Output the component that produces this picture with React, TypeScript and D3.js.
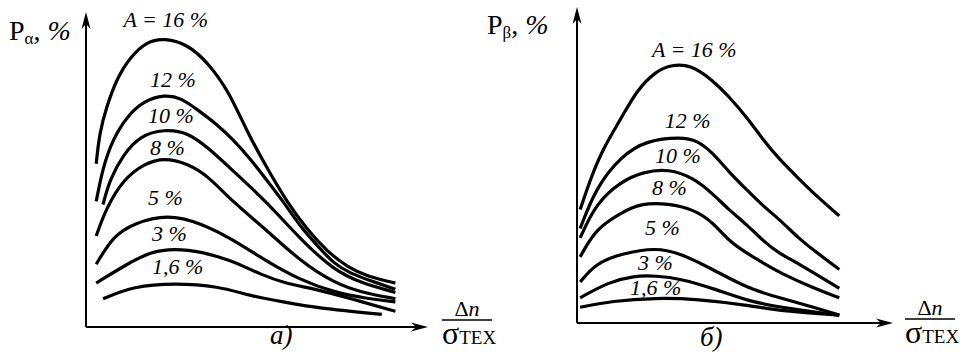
import React from "react";
import * as d3 from "d3";

// ---- data (abstract units 0..100 on both axes) ----
const seriesNames = ["A = 16 %", "12 %", "10 %", "8 %", "5 %", "3 %", "1,6 %"];

// panel а) P_alpha
const a16x = [3, 4, 6, 9, 13, 18, 23, 30, 36, 42, 47, 53, 59, 65, 71, 77, 83, 91];
const a16y = [52, 62, 70, 79, 86, 91, 92, 90, 84, 75, 63, 51, 40, 31, 24, 19, 16, 14];
const a12x = [3, 5, 8, 12, 17, 23, 28, 33, 38, 43, 48, 53, 58, 63, 68, 73, 78, 83, 91];
const a12y = [40, 51, 60, 67, 72, 74, 73, 69, 65, 60, 54, 47, 40, 32, 26, 20, 17, 15, 12];
const a10x = [5, 7, 11, 16, 23, 30, 36, 43, 53, 63, 73, 81, 91];
const a10y = [39, 47, 55, 61, 63, 62, 57, 50, 40, 28, 18, 14, 11];
const a8x = [3, 6, 11, 17, 23, 30, 36, 43, 53, 63, 73, 81, 91];
const a8y = [29, 38, 47, 52, 54, 52, 48, 40, 31, 21, 14, 11, 9];
const a5x = [3, 8, 14, 24, 34, 43, 53, 63, 73, 83, 91];
const a5y = [20, 29, 33, 36, 33, 28, 21, 15, 11, 9, 8];
const a3x = [3, 12, 19, 26, 34, 43, 47, 51, 58, 68, 78, 91];
const a3y = [14, 20, 24, 25, 24, 21, 19, 17, 14, 12, 9, 5];
const a16sx = [5, 14, 26, 39, 48, 58, 68, 87];
const a16sy = [9, 13, 14, 13, 10, 8, 6, 4];

// panel б) P_beta
const b16x = [1, 4, 8, 14, 19, 25, 30, 36, 43, 48, 54, 59, 64, 70, 75, 83];
const b16y = [36, 45, 55, 65, 74, 80, 82, 82, 77, 72, 65, 58, 52, 46, 41, 34];
const b12x = [1, 6, 14, 22, 33, 38, 43, 48, 54, 59, 64, 70, 75, 83];
const b12y = [30, 43, 53, 58, 59, 58, 54, 48, 42, 37, 33, 27, 23, 17];
const b10x = [1, 6, 14, 21, 29, 37, 43, 48, 54, 59, 64, 70, 83];
const b10y = [27, 38, 45, 48, 49, 46, 41, 36, 31, 26, 22, 19, 11];
const b8x = [1, 6, 14, 20, 29, 37, 43, 48, 54, 59, 64, 75, 83];
const b8y = [21, 30, 35, 38, 38, 36, 32, 26, 22, 19, 16, 11, 8];
const b5x = [1, 6, 14, 25, 33, 43, 54, 64, 75, 83];
const b5y = [13, 19, 22, 24, 22, 17, 11, 8, 5, 2.5];
const b3x = [1, 10, 18, 25, 33, 43, 54, 64, 83];
const b3y = [8, 13, 15, 15, 14, 11, 7, 5, 2.5];
const b16sx = [1, 11, 25, 38, 54, 64, 83];
const b16sy = [5, 7, 8, 7.6, 5.7, 3.8, 2.5];

const panelA = [
  [a16x, a16y], [a12x, a12y], [a10x, a10y], [a8x, a8y], [a5x, a5y], [a3x, a3y], [a16sx, a16sy],
];
const panelB = [
  [b16x, b16y], [b12x, b12y], [b10x, b10y], [b8x, b8y], [b5x, b5y], [b3x, b3y], [b16sx, b16sy],
];

// label anchors (data units)
const labelsA = [[11, 95.5], [18.8, 76.4], [18.2, 65], [18.8, 54.8], [18.2, 38.9], [19.4, 27.4], [19.4, 16.9]];
const labelsB = [[23.7, 84.4], [27.8, 61.9], [24.7, 50.8], [23.7, 40.6], [21.5, 27.9], [19.3, 16.8], [16.8, 8.9]];

const FONT = "Liberation Serif";

type PanelProps = {
  series: number[][][];
  labels: number[][];
  x0: number; x1: number; xEnd: number;
  yTop: number; yBottom: number; yArrow: number;
  sub: string; pX: number; pY: number;
  tag: string; tagX: number; tagY: number;
  fracX: number; fracY: number;
};

function Arrow({ x, y, dir }: { x: number; y: number; dir: "up" | "right" }) {
  const L = 17, W = 4.5, N = 12;
  const d = dir === "up"
    ? `M${x},${y} L${x + W},${y + L} L${x},${y + N} L${x - W},${y + L} Z`
    : `M${x},${y} L${x - L},${y + W} L${x - N},${y} L${x - L},${y - W} Z`;
  return <path d={d} fill="#000" />;
}

function Panel(p: PanelProps) {
  const xs = d3.scaleLinear().domain([0, 100]).range([p.x0, p.x1]);
  const ys = d3.scaleLinear().domain([0, 100]).range([p.yBottom, p.yTop]);
  const line = d3.line<[number, number]>()
    .x((d) => xs(d[0]))
    .y((d) => ys(d[1]))
    .curve(d3.curveBasis);
  return (
    <>
      <line x1={p.x0} y1={p.yBottom} x2={p.x0} y2={p.yArrow + 6} stroke="#000" strokeWidth={2} />
      <line x1={p.x0} y1={p.yBottom} x2={p.xEnd - 6} y2={p.yBottom} stroke="#000" strokeWidth={2} />
      <Arrow x={p.x0} y={p.yArrow} dir="up" />
      <Arrow x={p.xEnd} y={p.yBottom} dir="right" />
      {p.series.map(([sx, sy], i) => (
        <path key={i}
          d={line(sx.map((v, j) => [v, sy[j]] as [number, number])) || ""}
          fill="none" stroke="#000" strokeWidth={3.2} strokeLinecap="butt" />
      ))}
      {p.labels.map(([lx, ly], i) => (
        <text key={i} x={xs(lx)} y={ys(ly)} style={{ fontFamily: FONT, fontStyle: "italic", fontSize: 22 }}>
          {seriesNames[i]}
        </text>
      ))}
      <text x={p.pX} y={p.pY} style={{ fontFamily: FONT, fontSize: 28 }}>
        P<tspan style={{ fontSize: 17 }} dy={4}>{p.sub}</tspan><tspan dy={-4}>, </tspan><tspan style={{ fontStyle: "italic" }}>%</tspan>
      </text>
      <text x={p.tagX} y={p.tagY} style={{ fontFamily: FONT, fontStyle: "italic", fontSize: 27 }}>{p.tag}</text>
      <line x1={p.fracX} y1={p.fracY} x2={p.fracX + 50} y2={p.fracY} stroke="#000" strokeWidth={1.6} />
      <text x={p.fracX + 25} y={p.fracY - 4} textAnchor="middle" style={{ fontFamily: FONT, fontSize: 22 }}>
        Δ<tspan style={{ fontStyle: "italic" }}>n</tspan>
      </text>
      <text x={p.fracX} y={p.fracY + 24} style={{ fontFamily: FONT }}>
        <tspan style={{ fontSize: 32 }}>σ</tspan><tspan style={{ fontSize: 19 }}>TEX</tspan>
      </text>
    </>
  );
}

export default function App() {
  return (
    <svg width={965} height={360}
      style={{ position: "absolute", left: 0, top: 0, background: "#fff", fontFamily: FONT }}>
      <rect width={965} height={360} fill="#fff" />
      <Panel series={panelA} labels={labelsA}
        x0={86} x1={426} xEnd={428} yTop={13} yBottom={327} yArrow={12}
        sub="α" pX={9} pY={40} tag="а)" tagX={270} tagY={344} fracX={442} fracY={320} />
      <Panel series={panelB} labels={labelsB}
        x0={577} x1={893} xEnd={893} yTop={8} yBottom={323} yArrow={7}
        sub="β" pX={487} pY={34} tag="б)" tagX={700} tagY={346} fracX={905} fracY={319} />
    </svg>
  );
}
